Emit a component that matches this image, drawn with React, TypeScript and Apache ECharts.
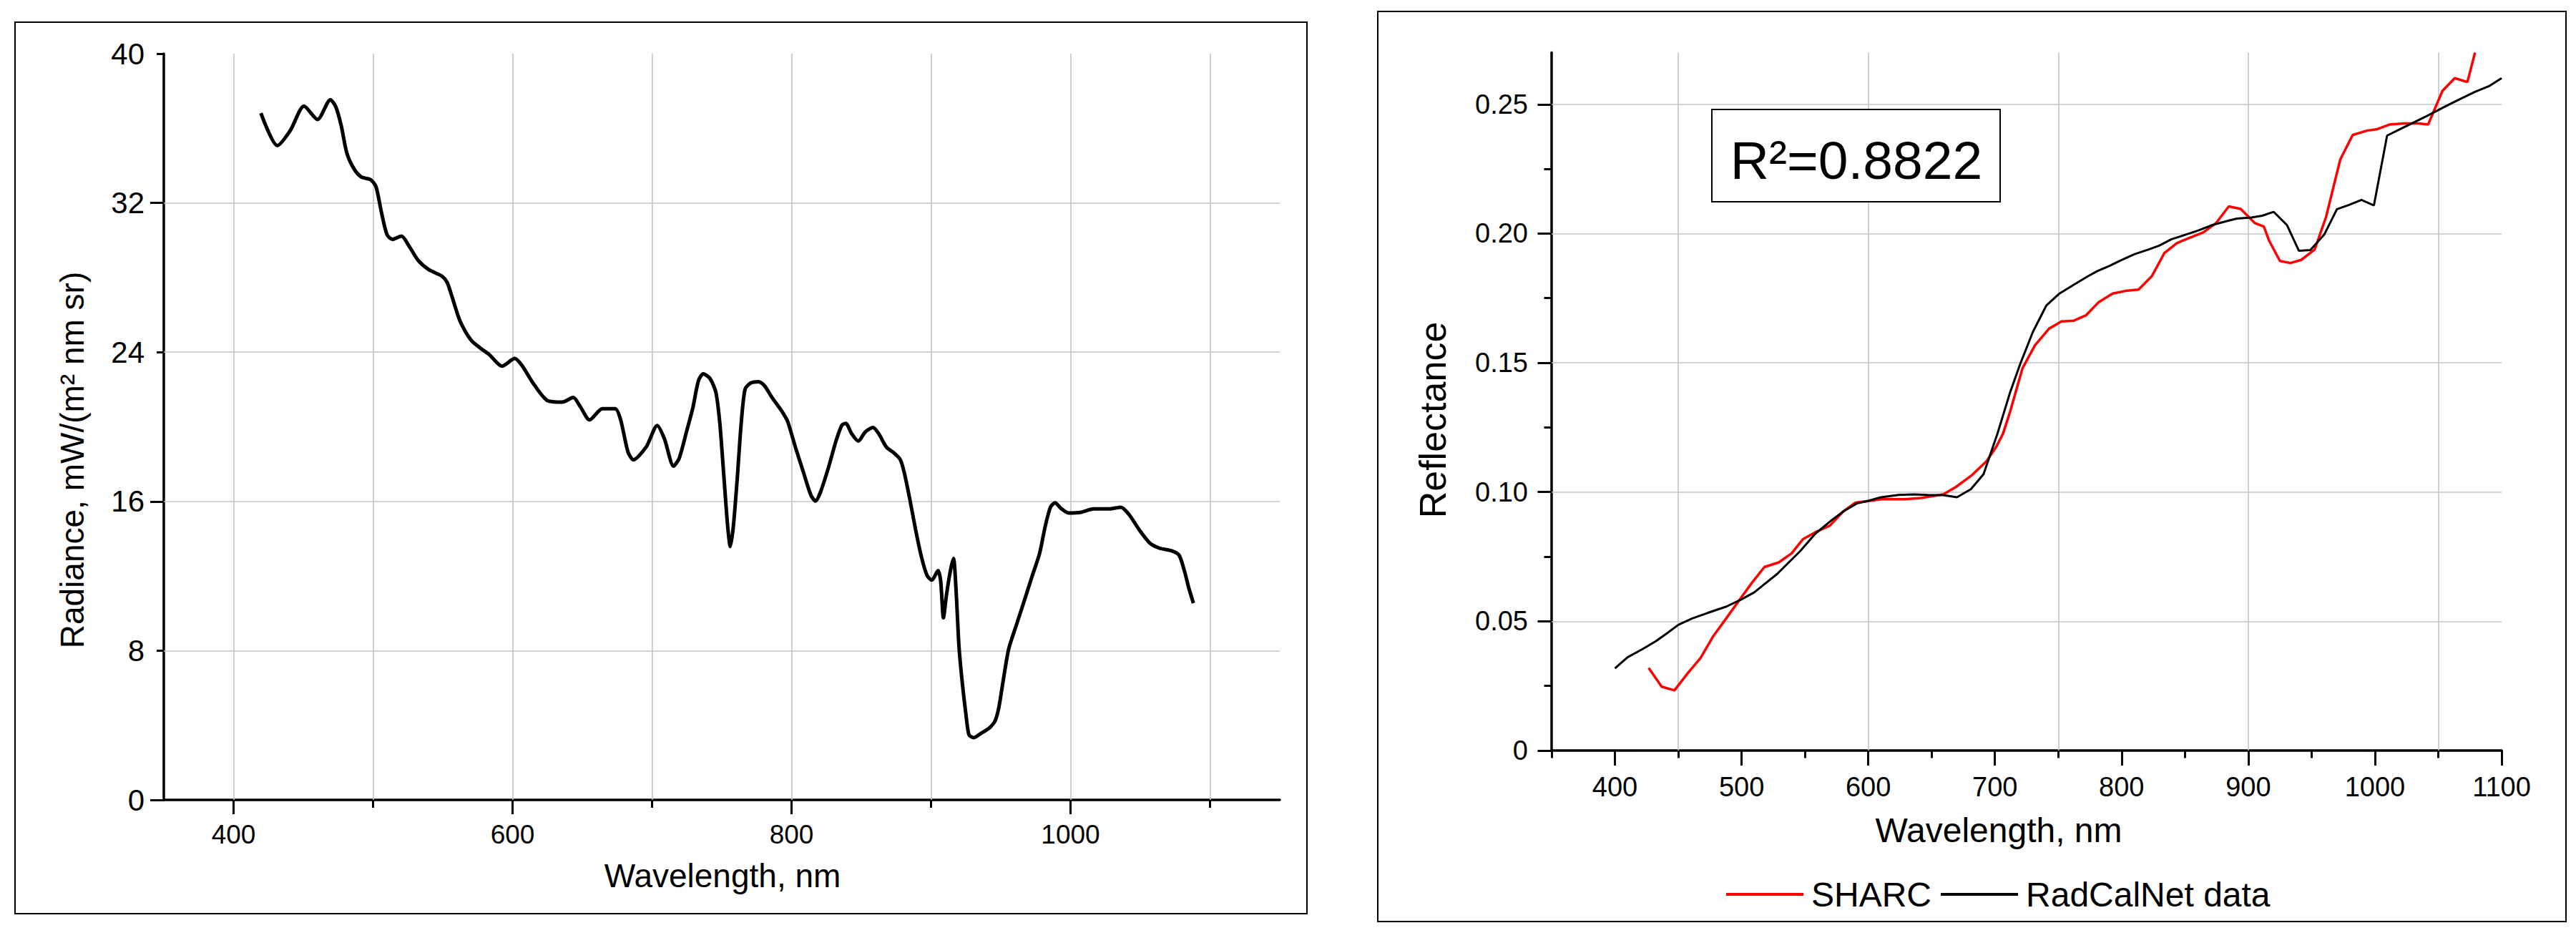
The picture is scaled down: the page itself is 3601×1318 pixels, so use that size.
import React, { useEffect, useRef } from 'react';
import * as echarts from 'echarts';

const FONT = '"Liberation Sans", Arial, Helvetica, sans-serif';

// ---- Left chart: radiance spectrum ----
const radianceWavelength = [
  419.6, 431.4, 440.6, 450.5, 460.2, 469.4, 473.3, 477.2, 481.2, 486.4, 491.6, 498.2,
  502.1, 506.0, 510.0, 513.9, 520.4, 525.7, 532.2, 540.0, 549.2, 553.1, 557.0, 562.3,
  570.2, 576.7, 583.2, 592.4, 601.6, 606.8, 614.7, 625.1, 635.6, 643.5, 648.7, 655.2,
  664.4, 673.6, 677.5, 682.7, 686.6, 695.8, 703.7, 708.9, 715.4, 719.4, 725.0, 729.2,
  733.3, 736.7, 741.7, 745.8, 748.6, 751.4, 754.2, 756.1, 758.3, 761.1, 763.9, 766.7,
  770.8, 776.4, 780.6, 786.1, 793.1, 797.2, 802.8, 808.3, 813.9, 817.2, 820.8, 826.4,
  832.0, 836.1, 838.9, 843.1, 847.8, 852.8, 858.3, 862.5, 868.1, 873.6, 877.8, 880.6,
  884.7, 888.9, 893.1, 897.2, 900.6, 905.0, 906.9, 908.9, 911.1, 913.9, 916.1, 918.1,
  920.0, 922.2, 925.0, 927.2, 930.6, 936.1, 941.7, 945.8, 948.6, 951.4, 955.6, 961.1,
  966.7, 972.2, 977.8, 981.9, 985.6, 988.9, 993.1, 998.6, 1006.9, 1016.7, 1027.8, 1036.1,
  1041.7, 1050.0, 1056.9, 1063.9, 1072.2, 1077.8, 1081.9, 1084.7, 1088.1
];
const radianceValues = [
  36.81, 35.07, 35.87, 37.19, 36.47, 37.53, 37.15, 36.13, 34.67, 33.82, 33.39, 33.25,
  32.87, 31.5, 30.3, 30.05, 30.22, 29.7, 28.93, 28.42, 28.08, 27.74, 26.88, 25.68,
  24.65, 24.23, 23.88, 23.25, 23.66, 23.28, 22.34, 21.4, 21.32, 21.57, 21.06, 20.37,
  20.97, 20.97, 20.37, 18.66, 18.23, 18.92, 20.07, 19.35, 17.89, 18.3, 19.82, 21.0,
  22.48, 22.84, 22.57, 21.83, 20.18, 17.43, 14.68, 13.58, 14.68, 17.25, 20.18, 22.02,
  22.35, 22.42, 22.2, 21.56, 20.83, 20.28, 18.9, 17.61, 16.33, 16.02, 16.51, 17.8,
  19.27, 20.09, 20.18, 19.63, 19.23, 19.72, 19.96, 19.63, 18.9, 18.59, 18.26, 17.61,
  16.15, 14.5, 13.03, 12.02, 11.78, 12.29, 11.74, 9.76, 11.01, 12.29, 12.94, 11.01,
  8.26, 6.42, 4.59, 3.49, 3.34, 3.58, 3.85, 4.22, 4.95, 6.24, 8.07, 9.36,
  10.64, 11.93, 13.21, 14.68, 15.69, 15.93, 15.63, 15.38, 15.41, 15.6, 15.6, 15.69,
  15.32, 14.4, 13.76, 13.49, 13.36, 13.12, 12.2, 11.38, 10.55
];

// ---- Right chart: reflectance ----
const sharcWavelength = [
  426.6, 436.9, 447, 457.6, 467.6, 477.7, 487.8, 497.9, 508, 518, 529.4, 539.5,
  548.3, 558.4, 569.7, 579.8, 589.9, 601.3, 611.3, 629, 641.6, 659.2, 669.3, 682,
  693.3, 700.8, 706.3, 712, 721.7, 731.5, 742.7, 752.5, 762.3, 772, 782, 793,
  803, 813.4, 824, 833.8, 843.6, 853.4, 864.7, 874.5, 884.6, 894, 905.3, 912.3,
  916.5, 925, 933.3, 941.8, 952.4, 961.4, 972.6, 982.4, 993.6, 1002, 1011.8, 1023,
  1034.3, 1042, 1053.3, 1063, 1073, 1079
];
const sharcReflectance = [
  0.032, 0.0247, 0.0233, 0.03, 0.0358, 0.0443, 0.0511, 0.058, 0.0648, 0.071, 0.0728, 0.0763,
  0.0817, 0.0845, 0.087, 0.0923, 0.0959, 0.0966, 0.0973, 0.0972, 0.0977, 0.0991, 0.102, 0.1066,
  0.1119, 0.1173, 0.1225, 0.1311, 0.1478, 0.1567, 0.1632, 0.166, 0.1663, 0.1684, 0.1735, 0.1768,
  0.1778, 0.1783, 0.1836, 0.1925, 0.1963, 0.1983, 0.2005, 0.204, 0.2105, 0.2095, 0.204, 0.2027,
  0.1972, 0.1894, 0.1886, 0.1898, 0.1938, 0.2064, 0.2286, 0.2381, 0.2398, 0.2404, 0.2422, 0.2426,
  0.2426, 0.2422, 0.2552, 0.2601, 0.2586, 0.27
];
const radcalWavelength = [
  400, 410, 422, 432, 440, 450, 461, 473, 488, 500, 510, 528,
  546, 558, 571, 581, 591, 600, 610, 624, 636, 647, 659, 670,
  681, 691, 702, 712, 720, 730, 740.5, 751, 762, 773.5, 780.6, 790.4,
  798.8, 810, 821, 829.6, 839.4, 849, 860.5, 871.7, 883, 891, 902.5, 911,
  920, 930.5, 940, 949, 960, 970, 979.6, 989.4, 999.2, 1009.6, 1020, 1031.5,
  1042.7, 1054, 1065, 1079, 1090, 1100
];
const radcalReflectance = [
  0.0318, 0.0361, 0.0393, 0.0422, 0.045, 0.0486, 0.0511, 0.0532, 0.0557, 0.0585, 0.0612, 0.0683,
  0.077, 0.0838, 0.0891, 0.0927, 0.0956, 0.0966, 0.098, 0.0989, 0.0991, 0.0989, 0.0988, 0.098,
  0.1011, 0.1069, 0.1226, 0.1386, 0.1496, 0.162, 0.1721, 0.1768, 0.1801, 0.1835, 0.1854, 0.1875,
  0.1895, 0.192, 0.1938, 0.1953, 0.1978, 0.1993, 0.2012, 0.2033, 0.2048, 0.2058, 0.2062, 0.2069,
  0.2084, 0.2033, 0.1933, 0.1936, 0.1996, 0.2094, 0.2111, 0.213, 0.2109, 0.2379, 0.2404, 0.2432,
  0.2459, 0.2488, 0.2515, 0.2548, 0.257, 0.2601
];

// ---- ticks, labels, gridlines ----
const leftXLabels = [400, 600, 800, 1000];
const leftXMinorTicks = [500, 700, 900, 1100];
const leftYLabels = [0, 8, 16, 24, 32, 40];
const leftYMajorTicks = [0, 16, 32];
const leftYMinorTicks = [8, 24, 40];
const leftXGrid = [400, 500, 600, 700, 800, 900, 1000, 1100];
const leftYGrid = [8, 16, 24, 32];

const rightXLabels = [400, 500, 600, 700, 800, 900, 1000, 1100];
const rightXMinorTicks = [350, 450, 550, 650, 750, 850, 950, 1050];
const rightYLabels = [0, 0.05, 0.1, 0.15, 0.2, 0.25];
const rightYMinorTicks = [0.025, 0.075, 0.125, 0.175, 0.225];
const rightXGrid = [450, 600, 750, 900, 1050];
const rightYGrid = [0.05, 0.1, 0.15, 0.2, 0.25];

const legendNames = ['SHARC', 'RadCalNet data'];

const zip = (xs: number[], ys: number[]) => xs.map((x, i) => [x, ys[i]]);

function mainAxis(
  gridIndex: number, min: number, max: number, position: string,
  labels: number[], ticks: number[], tickLen: number, fontSize: number, margin: number,
  fmt: (v: number) => string
) {
  return {
    type: 'value', gridIndex, min, max, position,
    axisLine: { show: true, onZero: false, lineStyle: { color: '#000', width: 3.5 } },
    axisTick: { show: true, inside: false, length: tickLen, customValues: ticks, lineStyle: { color: '#000', width: 3 } },
    axisLabel: { show: true, customValues: labels, formatter: fmt, margin, color: '#000', fontSize, fontFamily: FONT },
    splitLine: { show: false },
    minorTick: { show: false },
    minorSplitLine: { show: false },
  };
}

function minorAxis(gridIndex: number, min: number, max: number, position: string, ticks: number[], tickLen: number) {
  return {
    type: 'value', gridIndex, min, max, position,
    axisLine: { show: false, onZero: false },
    axisTick: { show: true, inside: false, length: tickLen, customValues: ticks, lineStyle: { color: '#000', width: 3 } },
    axisLabel: { show: false },
    splitLine: { show: false },
  };
}

function gridSeries(xAxisIndex: number, yAxisIndex: number, xs: number[], ys: number[], anchor: number[]) {
  return {
    type: 'line', xAxisIndex, yAxisIndex, z: 1, silent: true,
    data: [anchor], symbol: 'none', showSymbol: false,
    lineStyle: { width: 0 },
    markLine: {
      silent: true, symbol: ['none', 'none'], animation: false,
      label: { show: false },
      lineStyle: { type: 'solid', color: '#c4c4c4', width: 1.6 },
      emphasis: { disabled: true },
      data: [
        ...xs.map((v) => ({ xAxis: v })),
        ...ys.map((v) => ({ yAxis: v })),
      ],
    },
  };
}

export default function App() {
  const ref = useRef<HTMLDivElement>(null);
  useEffect(() => {
    if (!ref.current) return;
    const chart = echarts.init(ref.current, null, { renderer: 'svg' });
    const intFmt = (v: number) => String(Math.round(v));
    const refFmt = (v: number) => (v === 0 ? '0' : v.toFixed(2));
    const option: any = {
      animation: false,
      backgroundColor: '#ffffff',
      grid: [
        { left: 229, top: 75, width: 1560, height: 1043, outerBoundsMode: 'none', containLabel: false },
        { left: 2169, top: 73.5, width: 1328, height: 975.5, outerBoundsMode: 'none', containLabel: false },
      ],
      xAxis: [
        mainAxis(0, 350, 1150, 'bottom', leftXLabels, leftXLabels, 20, 37, 30, intFmt),
        minorAxis(0, 350, 1150, 'bottom', leftXMinorTicks, 11),
        mainAxis(1, 350, 1100, 'bottom', rightXLabels, rightXLabels, 21, 38, 32, intFmt),
        minorAxis(1, 350, 1100, 'bottom', rightXMinorTicks, 10.5),
      ],
      yAxis: [
        mainAxis(0, 0, 40, 'left', leftYLabels, leftYMajorTicks, 19, 42, 27, intFmt),
        minorAxis(0, 0, 40, 'left', leftYMinorTicks, 10),
        mainAxis(1, 0, 0.27, 'left', rightYLabels, rightYLabels, 19.5, 38, 33, refFmt),
        minorAxis(1, 0, 0.27, 'left', rightYMinorTicks, 10.5),
      ],
      legend: {
        data: legendNames.map((name) => ({ name, icon: 'rect' })),
        left: 2413,
        top: 1226,
        orient: 'horizontal',
        itemWidth: 108,
        itemHeight: 4,
        itemGap: 13,
        padding: 0,
        selectedMode: false,
        textStyle: { fontSize: 48, color: '#000', fontFamily: FONT, padding: [0, 0, 0, 6] },
      },
      series: [
        gridSeries(0, 0, leftXGrid, leftYGrid, [350, 0]),
        {
          name: 'Radiance',
          type: 'line', xAxisIndex: 0, yAxisIndex: 0, z: 5,
          data: zip(radianceWavelength, radianceValues),
          smooth: 0.25, symbol: 'none', showSymbol: false,
          lineStyle: { color: '#000', width: 5 },
          itemStyle: { color: '#000' },
        },
        gridSeries(2, 2, rightXGrid, rightYGrid, [350, 0]),
        {
          name: 'SHARC',
          type: 'line', xAxisIndex: 2, yAxisIndex: 2, z: 5,
          data: zip(sharcWavelength, sharcReflectance),
          symbol: 'none', showSymbol: false,
          lineStyle: { color: '#ff0000', width: 3.5 },
          itemStyle: { color: '#ff0000' },
        },
        {
          name: 'RadCalNet data',
          type: 'line', xAxisIndex: 2, yAxisIndex: 2, z: 6,
          data: zip(radcalWavelength, radcalReflectance),
          symbol: 'none', showSymbol: false,
          lineStyle: { color: '#000', width: 3 },
          itemStyle: { color: '#000' },
        },
      ],
      graphic: [
        { type: 'rect', shape: { x: 21, y: 31, width: 1806, height: 1246 }, style: { fill: 'none', stroke: '#000', lineWidth: 2 }, z: 0, silent: true },
        { type: 'rect', shape: { x: 1926, y: 16, width: 1661, height: 1272 }, style: { fill: 'none', stroke: '#000', lineWidth: 2 }, z: 0, silent: true },
        { type: 'rect', shape: { x: 2393, y: 153, width: 403, height: 129 }, style: { fill: '#fff', stroke: '#000', lineWidth: 2 }, z: 10, silent: true },
        {
          type: 'text', x: 2595, y: 224, z: 11, silent: true,
          style: { text: 'R²=0.8822', fontSize: 75, fontFamily: FONT, fill: '#000', align: 'center', verticalAlign: 'middle', textAlign: 'center', textVerticalAlign: 'middle' },
        },
        {
          type: 'text', x: 1010, y: 1224, silent: true,
          style: { text: 'Wavelength, nm', fontSize: 46, fontFamily: FONT, fill: '#000', align: 'center', verticalAlign: 'middle', textAlign: 'center', textVerticalAlign: 'middle' },
        },
        {
          type: 'text', x: 101, y: 643, rotation: Math.PI / 2, silent: true,
          style: { text: 'Radiance, mW/(m² nm sr)', fontSize: 46, fontFamily: FONT, fill: '#000', align: 'center', verticalAlign: 'middle', textAlign: 'center', textVerticalAlign: 'middle' },
        },
        {
          type: 'text', x: 2794, y: 1160, silent: true,
          style: { text: 'Wavelength, nm', fontSize: 48, fontFamily: FONT, fill: '#000', align: 'center', verticalAlign: 'middle', textAlign: 'center', textVerticalAlign: 'middle' },
        },
        {
          type: 'text', x: 2003, y: 587, rotation: Math.PI / 2, silent: true,
          style: { text: 'Reflectance', fontSize: 52, fontFamily: FONT, fill: '#000', align: 'center', verticalAlign: 'middle', textAlign: 'center', textVerticalAlign: 'middle' },
        },
      ],
    };
    chart.setOption(option);
    return () => chart.dispose();
  }, []);
  return (
    <div
      ref={ref}
      style={{ position: 'absolute', left: 0, top: 0, width: 3601, height: 1318, background: '#fff' }}
    />
  );
}
